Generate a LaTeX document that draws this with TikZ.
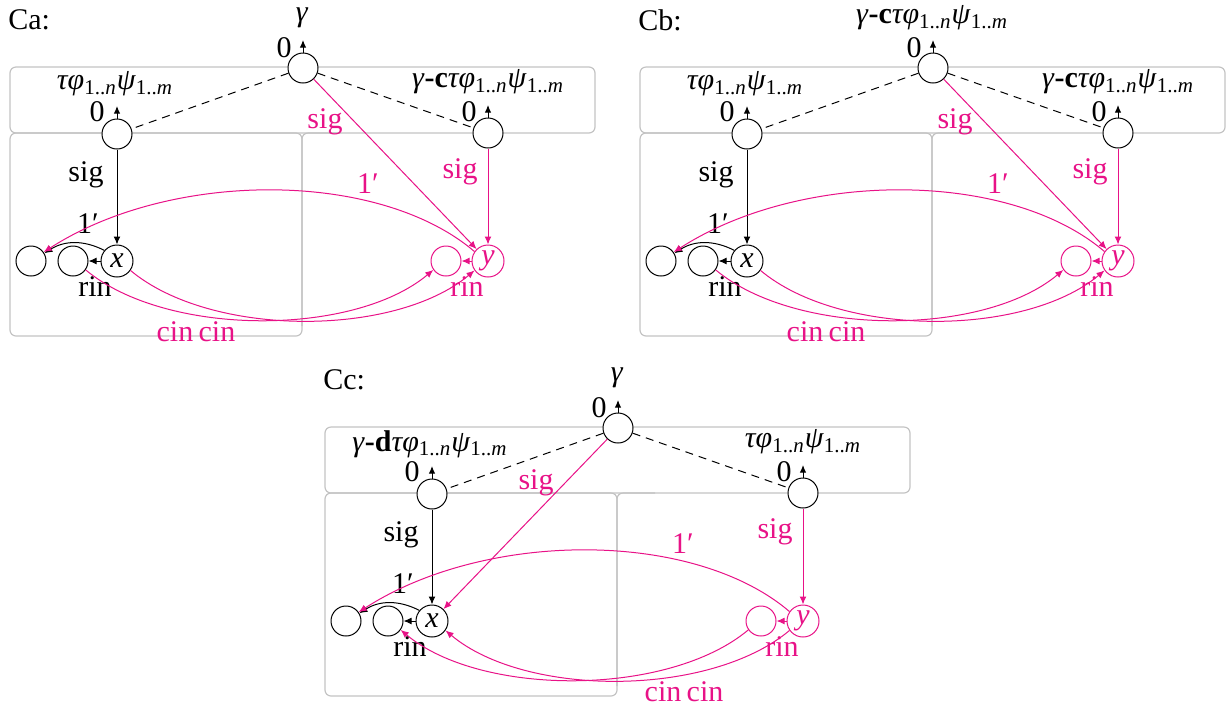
\documentclass[tikz,border=0pt]{standalone}
\usepackage{fontspec}
\setmainfont{Liberation Serif}
\usetikzlibrary{arrows.meta}
\definecolor{pk}{RGB}{232,18,135}
\definecolor{bx}{RGB}{195,195,195}
\newcommand\tfp{\textit{τφ}\textsubscript{1..\textit{n}}\textit{ψ}\textsubscript{1..\textit{m}}}
\newcommand\gam{\textit{γ}}
\newcommand\gcl{\textit{γ}\textbf{-c}\tfp}
\newcommand\gdl{\textit{γ}\textbf{-d}\tfp}
\tikzset{
 every node/.style={font=\fontsize{15}{17}\selectfont, inner sep=0pt},
 st/.style={circle, draw, fill=white, line width=0.5pt, minimum size=15pt, inner sep=0pt},
 pst/.style={st, draw=pk, text=pk},
 ln/.style={line width=0.5pt},
 arr/.style={ln, -{Latex[length=4pt,width=3.4pt]}},
 uparr/.style={ln, -{Latex[length=3.8pt,width=3.2pt]}},
 parr/.style={arr, draw=pk},
 dsh/.style={ln, dash pattern=on 4pt off 3pt},
 boxl/.style={draw=bx, line width=0.6pt, rounded corners=3pt},
 plbl/.style={text=pk},
}
% #1 name, #2 top label, #3 left label, #4 right label
\newcommand\basediagram[4]{%
 \draw[boxl] (10,67) rectangle (595,133);
 \draw[boxl] (10,133) rectangle (302,336);
 \draw[boxl] (302,326) -- (302,133) -- (340,133);
 \node[st] (top) at (303,68) {};
 \node[st] (ls) at (117,134) {};
 \node[st] (rs) at (488,133) {};
 \node[st, minimum size=16pt] (x) at (117,261) {\textit{x}};
 \node[st] (m) at (73,261) {};
 \node[st] (l) at (31,261) {};
 \node[pst, minimum size=16pt] (y) at (488,261) {\textit{y}};
 \node[pst] (ym) at (446,261) {};
 \node[anchor=west] (nm) at (8,20) {#1};
 \node (toplbl) at (302,18) {#2};
 \node (leftlbl) at (115,84) {#3};
 \node (rightlbl) at (488,82) {#4};
 \coordinate (topu) at (303,40);
 \coordinate (lsu) at (117,106);
 \coordinate (rsu) at (488,105);
 \draw[uparr] (top) -- (topu);
 \draw[uparr] (ls) -- (lsu);
 \draw[uparr] (rs) -- (rsu);
 \node (z0) at (284,48) {0};
 \node (z1) at (97,112) {0};
 \node (z2) at (469,112) {0};
 \draw[dsh] (top) -- (ls);
 \draw[dsh] (top) -- (rs);
 \draw[arr] (ls) -- (x);
 \node (sigb) at (86,175) {sig};
 \draw[parr] (rs) -- (y);
 \node[plbl] (sigr) at (460,172) {sig};
 \draw[arr] (x.140) to[bend right=30] (l.30);
 \node (oneb) at (88,224) {1′};
 \draw[parr] (y.145) .. controls +(-96,-82) and +(127,-82) .. (l.35);
 \node[plbl] (onep) at (368,184) {1′};
 \draw[arr] (x) -- (m);
 \node (rinb) at (95,287) {rin};
 \draw[parr] (y) -- (ym);
 \node[plbl] (rinp) at (467,287) {rin};
}
\begin{document}
\begin{tikzpicture}[x=0.5pt,y=-0.5pt]
\useasboundingbox (0,0) rectangle (1230,709);
\begin{scope}[name prefix=a-]
 \basediagram{Ca:}{\gam}{\tfp}{\gcl}
 \draw[parr] (top) -- (y);
 \node[plbl] (sigt) at (325,122) {sig};
 \draw[parr] (x.-35) .. controls +(80,67) and +(-80,67) .. (y.-145);
 \draw[parr] (m.-35) .. controls +(80,67) and +(-80,67) .. (ym.-145);
 \node[plbl] (cin1) at (175,332) {cin};
 \node[plbl] (cin2) at (217,332) {cin};
\end{scope}
\begin{scope}[shift={(630,0)}, name prefix=b-]
 \basediagram{Cb:}{\gcl}{\tfp}{\gcl}
 \draw[parr] (top) -- (y);
 \node[plbl] (sigt) at (325,122) {sig};
 \draw[parr] (x.-35) .. controls +(80,67) and +(-80,67) .. (y.-145);
 \draw[parr] (m.-35) .. controls +(80,67) and +(-80,67) .. (ym.-145);
 \node[plbl] (cin1) at (175,332) {cin};
 \node[plbl] (cin2) at (217,332) {cin};
\end{scope}
\begin{scope}[shift={(315,360)}, name prefix=c-]
 \basediagram{Cc:}{\gam}{\gdl}{\tfp}
 \draw[parr] (top) -- (x);
 \node[plbl] (sigt) at (221,123) {sig};
 \draw[parr] (y.-145) .. controls +(-80,67) and +(80,67) .. (x.-35);
 \draw[parr] (ym.-145) .. controls +(-80,67) and +(80,67) .. (m.-35);
 \node[plbl] (cin1) at (348,332) {cin};
 \node[plbl] (cin2) at (390,332) {cin};
\end{scope}
\end{tikzpicture}
\end{document}
